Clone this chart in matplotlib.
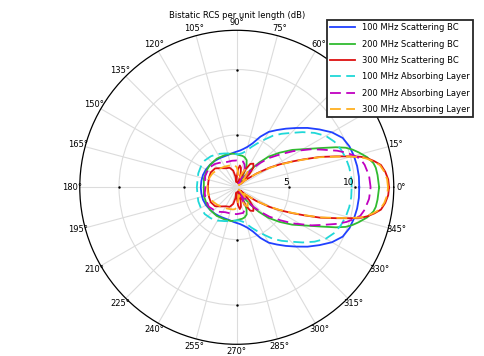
import numpy as np
import matplotlib.pyplot as plt

# bistatic RCS (dB), read for the upper half 0..180 deg, pattern is symmetric
blue_ang = [0, 5, 10, 15, 20, 25, 30, 35, 40, 45, 50, 55, 60, 65, 70, 75, 80, 85, 90, 95, 100, 105, 110, 120, 130, 140, 150, 160, 170, 180]
blue_db = [10.36, 10.37, 10.34, 10.27, 10.16, 9.93, 9.40, 8.71, 8.06, 7.41, 6.85, 6.34, 5.89, 5.27, 4.59, 4.21, 3.98, 3.82, 3.73, 3.66, 3.60, 3.56, 3.55, 3.58, 3.63, 3.67, 3.72, 3.75, 3.75, 3.75]

green_ang = [0, 5, 8, 10, 13, 16, 18, 20, 22, 25, 29, 34, 39, 44, 48, 52, 56, 59, 62, 64, 66, 70, 75, 80, 87, 92, 100, 110, 125, 140, 150, 165, 180]
green_db = [11.88, 11.80, 11.73, 11.61, 11.23, 10.69, 10.31, 9.85, 9.17, 8.10, 7.03, 6.11, 5.20, 4.36, 3.52, 2.68, 1.92, 1.38, 1.76, 2.37, 2.83, 3.21, 3.37, 3.44, 3.48, 3.56, 3.61, 3.63, 3.67, 3.67, 3.64, 3.60, 3.52]

red_ang = [0, 3, 6, 8.8, 10.8, 12.5, 13.8, 15.3, 17.3, 20, 22.7, 25, 28, 31, 35, 40, 43, 46, 50, 55, 60, 64, 67, 70, 74, 78, 82, 86, 90, 93, 97, 102, 110, 120, 130, 139, 150, 160, 170, 180]
red_db = [12.64, 12.59, 12.41, 12.15, 11.69, 11.23, 10.77, 9.97, 8.94, 7.79, 6.53, 5.66, 4.74, 3.90, 2.83, 1.84, 1.38, 2.37, 2.98, 3.21, 3.06, 2.53, 1.76, 1.31, 2.07, 2.53, 2.68, 2.37, 1.76, 1.38, 1.84, 2.30, 2.59, 2.68, 2.91, 3.20, 3.29, 3.25, 3.21, 3.21]

cyan_ang = [0, 5, 10, 15, 20, 25, 30, 35, 40, 45, 50, 55, 60, 65, 70, 75, 80, 85, 90, 100, 110, 120, 130, 140, 150, 160, 170, 180]
cyan_db = [9.78, 9.78, 9.73, 9.63, 9.47, 9.24, 8.86, 8.25, 7.56, 6.88, 6.34, 5.81, 5.20, 4.70, 4.28, 3.90, 3.67, 3.56, 3.52, 3.63, 3.75, 3.94, 4.09, 4.19, 4.17, 4.13, 4.05, 4.05]

mag_ang = [0, 5, 10, 13, 15, 17.5, 20, 23.6, 27, 32.7, 37, 42, 46, 50, 54, 57, 60, 63, 67, 71, 76, 82, 90, 100, 115, 125, 133, 145, 160, 170, 180]
mag_db = [11.23, 11.15, 10.92, 10.69, 10.31, 9.80, 9.17, 8.18, 7.41, 6.11, 5.20, 4.36, 3.60, 2.91, 2.07, 1.46, 1.31, 1.92, 2.53, 2.83, 3.02, 3.02, 3.05, 3.06, 3.10, 3.29, 3.44, 3.60, 3.56, 3.48, 3.40]

orng_ang = [0, 3, 6, 8.8, 10.8, 12.5, 13.8, 15.3, 17.3, 20, 22.7, 25, 28, 31, 35, 40, 45, 50, 55, 60, 65, 70, 75, 80, 85, 90, 95, 100, 110, 120, 130, 140, 150, 160, 170, 180]
orng_db = [12.56, 12.51, 12.34, 12.07, 11.61, 11.15, 10.69, 9.89, 8.86, 7.72, 6.46, 5.58, 4.66, 3.82, 2.76, 1.84, 1.23, 1.92, 2.45, 2.68, 2.53, 2.07, 1.61, 1.69, 2.15, 2.53, 2.68, 2.72, 2.76, 2.83, 2.91, 3.02, 3.14, 3.21, 3.25, 3.25]

labels = ['100 MHz Scattering BC', '200 MHz Scattering BC', '300 MHz Scattering BC',
          '100 MHz Absorbing Layer', '200 MHz Absorbing Layer', '300 MHz Absorbing Layer']


def full(ang, val):
    # mirror upper half onto lower half
    a = np.array(ang, dtype=float)
    v = np.array(val, dtype=float)
    a2 = np.concatenate([a, 360 - a[::-1][1:]])
    v2 = np.concatenate([v, v[::-1][1:]])
    return np.deg2rad(a2), v2


fig = plt.figure(figsize=(4.84, 3.56), dpi=100)
ax = fig.add_axes([0.1647, 0.0329, 0.649, 0.882], projection='polar')

series = [(blue_ang, blue_db, '#2040ff', '-'),
          (green_ang, green_db, '#30bb30', '-'),
          (red_ang, red_db, '#dd1010', '-'),
          (cyan_ang, cyan_db, '#20d8d8', '--'),
          (mag_ang, mag_db, '#c000c0', '--'),
          (orng_ang, orng_db, '#ffb020', '--')]

for (a, v, c, ls), lab in zip(series, labels):
    th, r = full(a, v)
    line, = ax.plot(th, r, color=c, ls=ls, lw=1.3, label=lab)
    if ls == '--':
        line.set_dashes((6, 3))

ax.set_rlim(1, 13)
ax.set_rticks([5, 10])
ax.set_yticklabels([])
ax.set_thetagrids(np.arange(0, 360, 15), [str(d) + '°' for d in range(0, 360, 15)], fontsize=6)
ax.tick_params(axis='x', pad=-1.5, length=0)
ax.tick_params(axis='y', length=0)
ax.grid(color='#dcdcdc', lw=0.8)
ax.spines['polar'].set_linewidth(0.9)

for rt in [5, 10]:
    ax.text(0, rt, str(rt), fontsize=6.5, ha='right', va='bottom')
    ax.plot(np.deg2rad([0, 90, 180, 270]), [rt] * 4, 'k.', ms=1.5)

fig.text(0.49, 1 - 15 / 356, 'Bistatic RCS per unit length (dB)', fontsize=6, ha='center', va='center')

leg = fig.legend(loc='upper right', bbox_to_anchor=(0.977, 0.944), fontsize=6,
                 handlelength=3.0, labelspacing=0.88, fancybox=False,
                 framealpha=1, edgecolor='0.15', borderaxespad=0)
leg.get_frame().set_linewidth(1.3)

fig.savefig('out.png', dpi=100)
